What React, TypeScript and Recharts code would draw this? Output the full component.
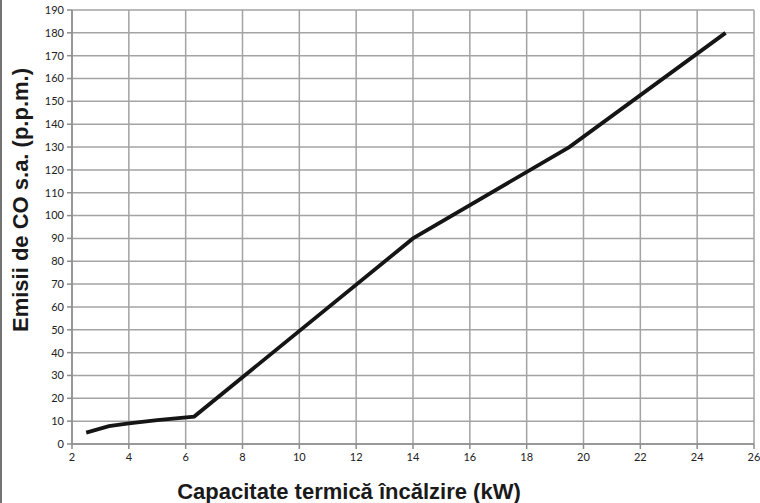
import React from 'react';
import { LineChart, Line, XAxis, YAxis, CartesianGrid, Label } from 'recharts';

const capacity = [2.5, 3.3, 4, 5, 6.3, 14, 19.5, 25];
const emissions = [5, 7.8, 9, 10.5, 12, 90, 130, 180];
const xTicks = [2, 4, 6, 8, 10, 12, 14, 16, 18, 20, 22, 24, 26];
const yTicks = [0, 10, 20, 30, 40, 50, 60, 70, 80, 90, 100, 110, 120, 130, 140, 150, 160, 170, 180, 190];
const xTitle = 'Capacitate termică încălzire (kW)';
const yTitle = 'Emisii de CO s.a. (p.p.m.)';

const data = capacity.map((c, i) => ({ x: c, y: emissions[i] }));

const gridColor = '#a3a3a3';
const axisColor = '#8c8c8c';
const tickFont = { fontFamily: 'Lato, "Open Sans", sans-serif', fontSize: 11, fill: '#222' };

export default function App() {
  return (
    <div style={{ position: 'absolute', left: 0, top: 0, width: 760, height: 503, background: '#fff' }}>
      <svg width={760} height={503} style={{ position: 'absolute', left: 0, top: 0 }}>
        <line x1={1} y1={0} x2={1} y2={503} stroke="#444" strokeWidth={1.5} />
      </svg>
      <LineChart
        width={760}
        height={503}
        data={data}
        margin={{ top: 10, right: 6, bottom: 0, left: 0 }}
        style={{ position: 'absolute', left: 0, top: 0 }}
      >
        <CartesianGrid stroke={gridColor} strokeWidth={1.5} horizontalValues={yTicks} verticalValues={xTicks} />
        <XAxis
          dataKey="x"
          type="number"
          domain={[2, 26]}
          ticks={xTicks}
          interval={0}
          height={59}
          stroke={axisColor}
          strokeWidth={1.5}
          tickSize={5}
          tick={tickFont}
          tickMargin={4}
        >
          <Label
            content={() => (
              <text
                x={349}
                y={499}
                textAnchor="middle"
                style={{ fontFamily: '"Liberation Sans", Arial, sans-serif', fontWeight: 'bold', fontSize: 22, fill: '#1a1a1a' }}
              >
                {xTitle}
              </text>
            )}
          />
        </XAxis>
        <YAxis
          type="number"
          domain={[0, 190]}
          ticks={yTicks}
          interval={0}
          width={72}
          stroke={axisColor}
          strokeWidth={1.5}
          tickSize={5}
          tick={tickFont}
          tickMargin={3}
        >
          <Label
            content={() => {
              const cx = 28;
              const cy = 200;
              return (
                <text
                  x={cx}
                  y={cy}
                  textAnchor="middle"
                  transform={`rotate(-90, ${cx}, ${cy})`}
                  style={{ fontFamily: '"Liberation Sans", Arial, sans-serif', fontWeight: 'bold', fontSize: 22, fill: '#1a1a1a' }}
                >
                  {yTitle}
                </text>
              );
            }}
          />
        </YAxis>
        <Line
          type="linear"
          dataKey="y"
          stroke="#151515"
          strokeWidth={3.8}
          dot={false}
          isAnimationActive={false}
        />
      </LineChart>
    </div>
  );
}
